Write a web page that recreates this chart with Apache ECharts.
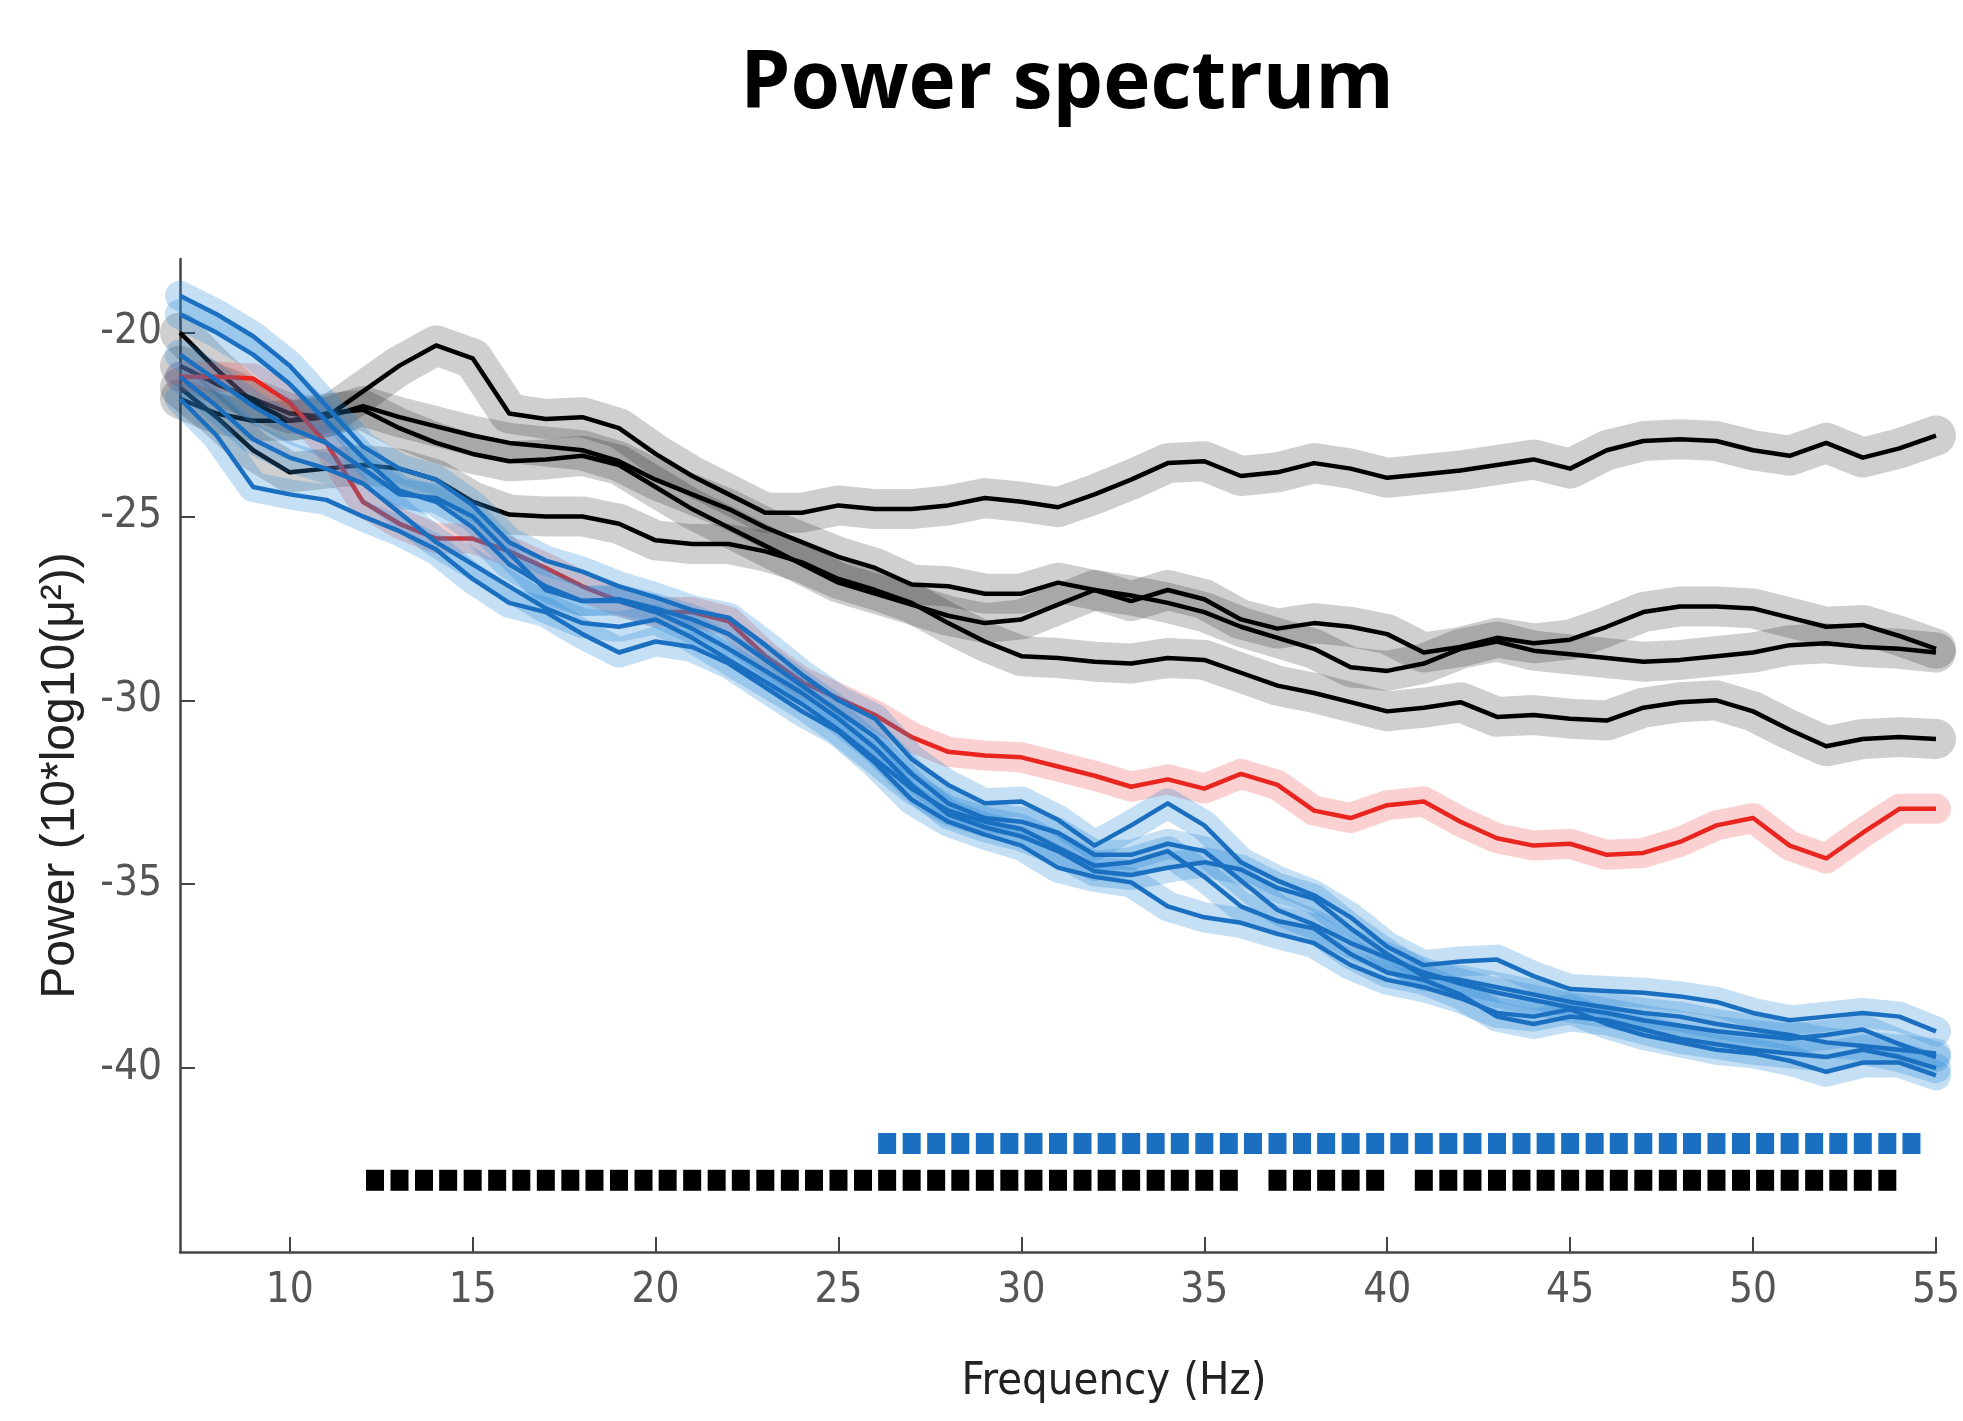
<!DOCTYPE html>
<html>
<head>
<meta charset="utf-8">
<title>Power spectrum</title>
<script src="https://cdn.jsdelivr.net/npm/echarts@6/dist/echarts.min.js"></script>
<style>
  html, body { margin: 0; padding: 0; background: #fff; }
  #main { width: 1963px; height: 1421px; }
</style>
</head>
<body>
<div id="main"></div>
<script>
// frequency grid (Hz)
var freqs = [7, 8, 9, 10, 11, 12, 13, 14, 15, 16, 17, 18, 19, 20, 21, 22, 23, 24, 25, 26, 27, 28, 29, 30, 31,
  32, 33, 34, 35, 36, 37, 38, 39, 40, 41, 42, 43, 44, 45, 46, 47, 48, 49, 50, 51, 52, 53, 54, 55];

// black group
var black1 = [-20.0, -21.0, -21.9, -22.4, -22.3, -21.6, -20.9, -20.35, -20.7, -22.2, -22.35, -22.3, -22.6, -23.3, -23.9,
  -24.4, -24.9, -24.9, -24.7, -24.8, -24.8, -24.7, -24.5, -24.6, -24.75, -24.4, -24.0, -23.55, -23.5, -23.9, -23.8,
  -23.55, -23.7, -23.95, -23.85, -23.75, -23.6, -23.45, -23.7, -23.2, -22.95, -22.9, -22.95, -23.2, -23.35, -23.0,
  -23.4, -23.15, -22.8];
var black2 = [-20.9, -21.4, -21.8, -22.2, -22.3, -22.0, -22.3, -22.55, -22.8, -23.0, -23.1, -23.2, -23.5, -24.0, -24.4,
  -24.8, -25.3, -25.7, -26.1, -26.4, -26.85, -26.9, -27.1, -27.1, -26.8, -27.0, -27.3, -27.0, -27.25, -27.8, -28.05,
  -27.9, -28.0, -28.2, -28.7, -28.55, -28.3, -28.45, -28.35, -28.0, -27.6, -27.45, -27.45, -27.5, -27.75, -28.0,
  -27.95, -28.25, -28.6];
var black3 = [-21.8, -22.2, -22.4, -22.4, -22.2, -22.1, -22.6, -23.0, -23.3, -23.5, -23.45, -23.35, -23.6, -24.2, -24.8,
  -25.3, -25.8, -26.3, -26.8, -27.1, -27.4, -27.7, -27.9, -27.8, -27.4, -27.0, -27.15, -27.35, -27.6, -28.0, -28.3,
  -28.6, -29.1, -29.2, -29.0, -28.6, -28.4, -28.65, -28.75, -28.85, -28.95, -28.9, -28.8, -28.7, -28.5, -28.45,
  -28.55, -28.6, -28.7];
var black4 = [-21.5, -22.3, -23.2, -23.8, -23.7, -23.6, -23.7, -24.0, -24.6, -24.95, -25.0, -25.0, -25.2, -25.65, -25.75,
  -25.75, -25.95, -26.25, -26.7, -27.0, -27.35, -27.9, -28.4, -28.8, -28.85, -28.95, -29.0, -28.85, -28.9, -29.25,
  -29.6, -29.8, -30.05, -30.3, -30.2, -30.05, -30.45, -30.4, -30.5, -30.55, -30.2, -30.05, -30.0, -30.3, -30.8,
  -31.25, -31.05, -31.0, -31.05];

// red
var red1 = [-21.2, -21.2, -21.25, -21.9, -23.0, -24.6, -25.2, -25.6, -25.6, -25.95, -26.4, -26.9, -27.3, -27.6, -27.6,
  -27.85, -28.8, -29.5, -29.95, -30.4, -31.0, -31.4, -31.5, -31.55, -31.8, -32.05, -32.35, -32.15, -32.4, -32.0,
  -32.3, -33.0, -33.2, -32.85, -32.75, -33.3, -33.75, -33.95, -33.9, -34.2, -34.15, -33.85, -33.4, -33.2, -33.95,
  -34.3, -33.6, -32.95, -32.95];

// blue group
var blue1 = [-19.0, -19.5, -20.1, -20.9, -22.0, -23.1, -23.7, -24.0, -24.7, -25.7, -26.2, -26.5, -26.9, -27.2, -27.55,
  -27.75, -28.5, -29.3, -30.0, -30.5, -31.6, -32.3, -32.8, -32.75, -33.25, -33.95, -33.4, -32.8, -33.4, -34.4, -34.9,
  -35.3, -35.9, -36.7, -37.2, -37.1, -37.05, -37.5, -37.85, -37.9, -37.95, -38.05, -38.2, -38.5, -38.7, -38.6,
  -38.5, -38.6, -39.0];
var blue2 = [-19.5, -20.0, -20.6, -21.4, -22.4, -23.4, -24.3, -24.6, -25.3, -26.3, -26.9, -27.3, -27.3, -27.6, -28.05,
  -28.6, -29.2, -29.8, -30.5, -31.3, -32.3, -33.1, -33.45, -33.7, -34.1, -34.65, -34.75, -34.55, -34.4, -34.6, -35.1,
  -35.4, -36.2, -36.9, -37.5, -37.6, -37.8, -38.0, -38.2, -38.35, -38.5, -38.6, -38.8, -38.95, -39.1, -39.3, -39.4,
  -39.5, -39.6];
var blue3 = [-20.6, -21.3, -22.0, -22.6, -23.0, -23.7, -24.4, -24.5, -25.0, -26.0, -27.0, -27.3, -27.25, -27.5, -27.8,
  -28.2, -28.9, -29.6, -30.3, -31.0, -32.0, -32.8, -33.2, -33.3, -33.6, -34.2, -34.2, -33.9, -34.1, -34.9, -35.7,
  -36.1, -36.6, -37.0, -37.4, -37.7, -37.95, -38.15, -38.35, -38.5, -38.7, -38.85, -39.0, -39.1, -39.2, -39.1,
  -38.95, -39.35, -39.7];
var blue4 = [-21.2, -22.0, -22.9, -23.4, -23.7, -24.1, -24.9, -25.7, -26.3, -26.9, -27.5, -27.9, -28.0, -27.8, -28.3,
  -28.9, -29.5, -30.1, -30.8, -31.6, -32.4, -33.0, -33.3, -33.5, -34.0, -34.5, -34.4, -34.1, -34.8, -35.6, -36.0,
  -36.2, -36.9, -37.4, -37.6, -38.0, -38.6, -38.8, -38.6, -38.7, -38.95, -39.2, -39.35, -39.5, -39.6, -39.7, -39.5,
  -39.7, -40.0];
var blue5 = [-21.8, -22.8, -24.2, -24.4, -24.55, -25.0, -25.4, -25.9, -26.7, -27.35, -27.6, -28.2, -28.7, -28.4, -28.55,
  -29.0, -29.65, -30.3, -30.85, -31.7, -32.7, -33.3, -33.65, -33.95, -34.55, -34.8, -34.95, -35.6, -35.9, -36.05,
  -36.35, -36.6, -37.2, -37.6, -37.8, -38.1, -38.5, -38.6, -38.4, -38.8, -39.1, -39.3, -39.5, -39.6, -39.8, -40.1,
  -39.85, -39.85, -40.2];

// significance markers (Hz)
var blueSig = [26.33, 27, 27.67, 28.33, 29, 29.67, 30.33, 31, 31.67, 32.33, 33, 33.67, 34.33, 35, 35.67, 36.33, 37,
  37.67, 38.33, 39, 39.67, 40.33, 41, 41.67, 42.33, 43, 43.67, 44.33, 45, 45.67, 46.33, 47, 47.67, 48.33, 49, 49.67,
  50.33, 51, 51.67, 52.33, 53, 53.67, 54.33];
var blackSig = [12.33, 13, 13.67, 14.33, 15, 15.67, 16.33, 17, 17.67, 18.33, 19, 19.67, 20.33, 21, 21.67, 22.33, 23,
  23.67, 24.33, 25, 25.67, 26.33, 27, 27.67, 28.33, 29, 29.67, 30.33, 31, 31.67, 32.33, 33, 33.67, 34.33, 35, 35.67,
  37, 37.67, 38.33, 39, 39.67,
  41, 41.67, 42.33, 43, 43.67, 44.33, 45, 45.67, 46.33, 47, 47.67, 48.33, 49, 49.67, 50.33, 51, 51.67, 52.33, 53, 53.67];
var blueSigLevel = -42.05;
var blackSigLevel = -43.05;

var xTicks = [10, 15, 20, 25, 30, 35, 40, 45, 50, 55];
var yTicks = [-40, -35, -30, -25, -20];

var tickFont = '"Liberation Sans Narrow", "DejaVu Sans Condensed", "Liberation Sans", sans-serif';

function pairs(vals) {
  return freqs.map(function (f, i) { return [f, vals[i]]; });
}

function band(vals, color, width) {
  return {
    type: 'line',
    data: pairs(vals),
    symbol: 'none',
    silent: true,
    lineStyle: { color: color, width: width, cap: 'round', join: 'round' }
  };
}

function trace(vals, color) {
  return {
    type: 'line',
    data: pairs(vals),
    symbol: 'none',
    silent: true,
    lineStyle: { color: color, width: 4.5, join: 'round' }
  };
}

var grayBand = 'rgba(0, 0, 0, 0.19)';
var blueBand = 'rgba(40, 135, 215, 0.27)';
var redBand = 'rgba(240, 60, 60, 0.24)';
var blackLine = '#000000';
var blueLine = '#1a6fc0';
var redLine = '#e8261f';

var blacks = [black1, black2, black3, black4];
var blues = [blue1, blue2, blue3, blue4, blue5];

var series = [];
blacks.forEach(function (v) { series.push(band(v, grayBand, 40)); });
blacks.forEach(function (v) { series.push(trace(v, blackLine)); });
series.push(band(red1, redBand, 30));
series.push(trace(red1, redLine));
blues.forEach(function (v) { series.push(band(v, blueBand, 30)); });
blues.forEach(function (v) { series.push(trace(v, blueLine)); });

series.push({
  type: 'scatter',
  symbol: 'rect',
  symbolSize: [18, 21],
  silent: true,
  itemStyle: { color: '#1a6fc0', opacity: 1 },
  data: blueSig.map(function (f) { return [f, blueSigLevel]; })
});
series.push({
  type: 'scatter',
  symbol: 'rect',
  symbolSize: [18, 21],
  silent: true,
  itemStyle: { color: '#000000', opacity: 1 },
  data: blackSig.map(function (f) { return [f, blackSigLevel]; })
});

var chart = echarts.init(document.getElementById('main'), null, { renderer: 'canvas' });

var option = {
  animation: false,
  backgroundColor: '#ffffff',
  title: {
    text: 'Power spectrum',
    left: 1062,
    top: 40,
    textAlign: 'center',
    textStyle: {
      fontFamily: '"Open Sans", "Noto Sans", sans-serif',
      fontWeight: 'bold',
      fontSize: 80,
      color: '#000'
    }
  },
  grid: { left: 180, right: 16, top: 259, bottom: 169 },
  xAxis: {
    type: 'value',
    min: 7,
    max: 55,
    name: 'Frequency (Hz)',
    nameLocation: 'middle',
    nameGap: 108,
    nameTextStyle: {
      fontFamily: tickFont,
      fontSize: 45,
      color: '#222',
      padding: [0, 0, 0, 112]
    },
    axisLine: { show: true, onZero: false, lineStyle: { color: '#444', width: 2.5 } },
    axisTick: { show: true, inside: true, length: 15, customValues: xTicks, lineStyle: { color: '#444', width: 2 } },
    axisLabel: { customValues: xTicks, margin: 18, fontFamily: tickFont, fontSize: 42, color: '#555' },
    splitLine: { show: false }
  },
  yAxis: {
    type: 'value',
    min: -45,
    max: -18,
    interval: 5,
    name: 'Power (10*log10(μ²))',
    nameLocation: 'middle',
    nameGap: 95,
    nameRotate: 90,
    nameTextStyle: {
      fontFamily: '"Liberation Sans", sans-serif',
      fontSize: 48,
      color: '#222',
      padding: [0, 40, 0, 0]
    },
    axisLine: { show: true, onZero: false, lineStyle: { color: '#444', width: 2.5 } },
    axisTick: { show: true, inside: true, length: 15, customValues: yTicks, lineStyle: { color: '#444', width: 2 } },
    axisLabel: { customValues: yTicks, margin: 18, fontFamily: tickFont, fontSize: 42, color: '#555' },
    splitLine: { show: false }
  },
  series: series
};

chart.setOption(option);
</script>
</body>
</html>
